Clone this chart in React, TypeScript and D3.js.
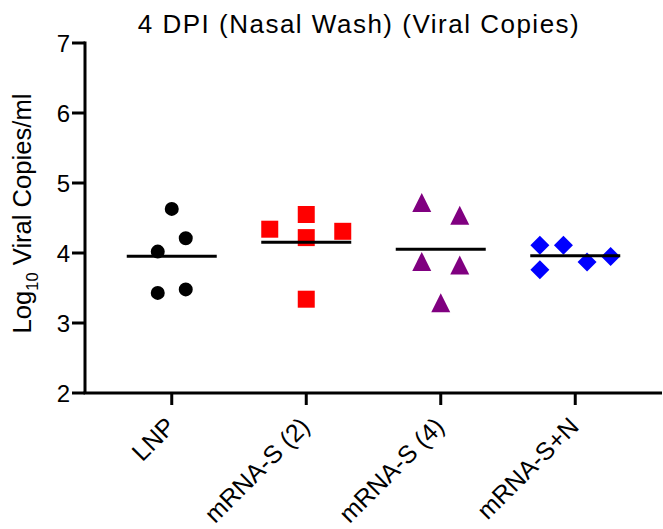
import React from "react";
import * as d3 from "d3";

const categories = ["LNP", "mRNA-S (2)", "mRNA-S (4)", "mRNA-S+N"];
const lnpValues = [4.63, 4.21, 4.02, 3.43, 3.48];
const mrnaS2Values = [4.34, 4.55, 4.22, 4.31, 3.34];
const mrnaS4Values = [4.72, 4.54, 3.88, 3.83, 3.29];
const mrnaSNValues = [4.11, 4.11, 3.76, 3.87, 3.95];
// scatter slot index of each point (column layout as in the original graph)
const lnpSlots = [0, 1, -1, -1, 1];
const mrnaS2Slots = [-1, 0, 0, 1, 0];
const mrnaS4Slots = [-1, 1, -1, 1, 0];
const mrnaSNSlots = [-3, -1, -3, 1, 3];
const yTicks = [2, 3, 4, 5, 6, 7];
const title = "4 DPI (Nasal Wash) (Viral Copies)";

const W = 663;
const H = 529;
const left = 85;
const right = 662;
const top = 43;
const bottom = 393;
const font = "'Liberation Sans', Arial, Helvetica, sans-serif";

type Group = {
  name: string;
  values: number[];
  slots: number[];
  step: number;
  color: string;
  shape: string;
};

const groups: Group[] = [
  { name: categories[0], values: lnpValues, slots: lnpSlots, step: 14, color: "#000000", shape: "circle" },
  { name: categories[1], values: mrnaS2Values, slots: mrnaS2Slots, step: 36.5, color: "#ff0000", shape: "square" },
  { name: categories[2], values: mrnaS4Values, slots: mrnaS4Slots, step: 19, color: "#800080", shape: "triangle" },
  { name: categories[3], values: mrnaSNValues, slots: mrnaSNSlots, step: 11.8, color: "#0000ff", shape: "diamond" },
];

const symbolPath = (shape: string): string => {
  if (shape === "circle") return d3.symbol(d3.symbolCircle, 154)()!;
  if (shape === "square") return d3.symbol(d3.symbolSquare, 289)()!;
  if (shape === "triangle") {
    const w = 19, h = 19;
    return `M0,${-h / 2}L${w / 2},${h / 2}L${-w / 2},${h / 2}Z`;
  }
  const r = 9.5;
  return `M0,${-r}L${r},0L0,${r}L${-r},0Z`;
};

export default function App() {
  const x = d3.scalePoint<string>().domain(categories).range([left, right]).padding(0.645);
  const y = d3.scaleLinear().domain([2, 7]).range([bottom, top]);

  return (
    <svg width={W} height={H} style={{ display: "block", position: "absolute", left: 0, top: 0 }}>
      <rect width={W} height={H} fill="#ffffff" />
      <text x={359} y={33} textAnchor="middle" fontFamily={font} fontSize={26} letterSpacing={1.5} fill="#000">
        {title}
      </text>

      {/* y axis */}
      <line x1={left} x2={left} y1={y(7) - 1.5} y2={y(2)} stroke="#000" strokeWidth={3} />
      {yTicks.map((t) => (
        <g key={t}>
          <line x1={left - 13} x2={left} y1={y(t)} y2={y(t)} stroke="#000" strokeWidth={3} />
          <text x={left - 15} y={y(t)} dy="0.36em" textAnchor="end" fontFamily={font} fontSize={24} fill="#000">
            {t}
          </text>
        </g>
      ))}
      <text
        transform={`translate(${31},${213.5}) rotate(-90)`}
        textAnchor="middle"
        fontFamily={font}
        fontSize={25.6}
        fill="#000"
      >
        Log
        <tspan fontSize={16.5} dy={7}>10</tspan>
        <tspan dy={-7}> Viral Copies/ml</tspan>
      </text>

      {/* x axis */}
      <line x1={left - 1.5} x2={right} y1={bottom} y2={bottom} stroke="#000" strokeWidth={3} />
      {categories.map((c) => (
        <g key={c}>
          <line x1={x(c)!} x2={x(c)!} y1={bottom} y2={bottom + 12} stroke="#000" strokeWidth={3} />
          <text
            transform={`translate(${x(c)! + 5},${428}) rotate(-45)`}
            textAnchor="end"
            fontFamily={font}
            fontSize={25}
            fill="#000"
          >
            {c}
          </text>
        </g>
      ))}

      {/* points */}
      {groups.map((g) => (
        <g key={g.name}>
          {g.values.map((v, i) => (
            <path
              key={i}
              d={symbolPath(g.shape)}
              transform={`translate(${x(g.name)! + g.slots[i] * g.step},${y(v)})`}
              fill={g.color}
            />
          ))}
          <line
            x1={x(g.name)! - 45}
            x2={x(g.name)! + 45}
            y1={y(d3.mean(g.values)!)}
            y2={y(d3.mean(g.values)!)}
            stroke="#000"
            strokeWidth={3}
          />
        </g>
      ))}
    </svg>
  );
}
